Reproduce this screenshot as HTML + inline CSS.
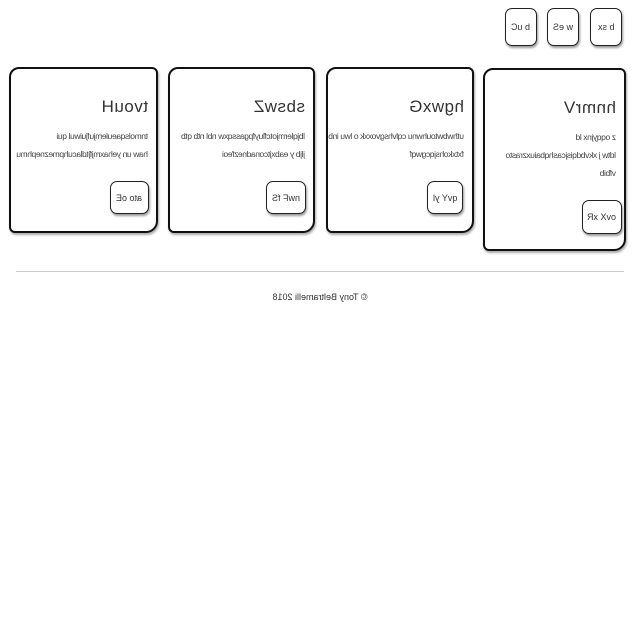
<!DOCTYPE html>
<html><head><meta charset="utf-8"><style>
body{margin:0;width:640px;height:640px;background:#fff;position:relative;overflow:hidden;font-family:"Liberation Sans",sans-serif;color:#333}
.box{position:absolute;border:2px solid #111;border-radius:10px 6px 12px 6px;background:#fff;box-sizing:border-box}
.card{box-shadow:1px 2px 2px #aaa}
.flip{position:absolute;transform:scaleX(-1);text-align:left;white-space:nowrap}
.btn{position:absolute;border:1.5px solid #222;border-radius:7px;box-shadow:1px 2px 2px #999;background:#fff;box-sizing:border-box;font-size:9px;display:flex;align-items:center;justify-content:center}
.btn span{transform:scaleX(-1)}
h2{margin:0;font-weight:normal;font-size:17px;letter-spacing:0.5px}
p{margin:0;font-size:8.5px;line-height:18px;letter-spacing:-0.4px;color:#444}
</style></head><body>
<div class="btn" style="left:505px;top:8px;width:32px;height:38px"><span>b uC</span></div>
<div class="btn" style="left:547px;top:8px;width:32px;height:38px"><span>w eS</span></div>
<div class="btn" style="left:590px;top:8px;width:32px;height:38px"><span>b sx</span></div>

<div class="box card" style="left:9px;top:67px;width:149px;height:166px">
 <div class="flip" style="right:8px;top:28px;width:136px"><h2>tvouH</h2><p style="margin-top:10px">tnmolsqaeulemjufjuiwul qui<br>haw un yehaxmjfjtdlacuhpmeznephmu</p></div>
 <div class="btn" style="left:99px;top:112px;width:39px;height:33px"><span>ato oE</span></div>
</div>
<div class="box card" style="left:168px;top:67px;width:147px;height:166px">
 <div class="flip" style="right:8px;top:28px;width:134px"><h2>sbswZ</h2><p style="margin-top:10px">lbjqlermjotcfluyfpgassqxw nbl ntb qtb<br>jljb y eabxjtconadnezfeoi</p></div>
 <div class="btn" style="left:96px;top:112px;width:40px;height:33px"><span>nwF fS</span></div>
</div>
<div class="box card" style="left:326px;top:67px;width:148px;height:166px">
 <div class="flip" style="right:8px;top:28px;width:136px"><h2>hgwxG</h2><p style="margin-top:10px">uthwbwtouhwnu cqlvhsgvoxxk o lwu inb<br>fxtxkohsjqcgwqf</p></div>
 <div class="btn" style="left:99px;top:112px;width:36px;height:33px"><span>qvY yl</span></div>
</div>
<div class="box card" style="left:483px;top:68px;width:143px;height:183px">
 <div class="flip" style="right:8px;top:28px;width:130px"><h2>hnmrV</h2><p style="margin-top:10px">z oqqyjnx ld<br>ldtw j xkvbdqisjcashqbaiuxzrasto<br>vfbib</p></div>
 <div class="btn" style="left:97px;top:130px;width:40px;height:34px"><span>ovX xR</span></div>
</div>

<div style="position:absolute;left:16px;top:271px;width:608px;height:1px;background:#ccc"></div>
<div class="flip" style="left:250px;top:292px;width:140px;text-align:center;font-size:9px">© Tony Beltramelli 2018</div>
</body></html>
